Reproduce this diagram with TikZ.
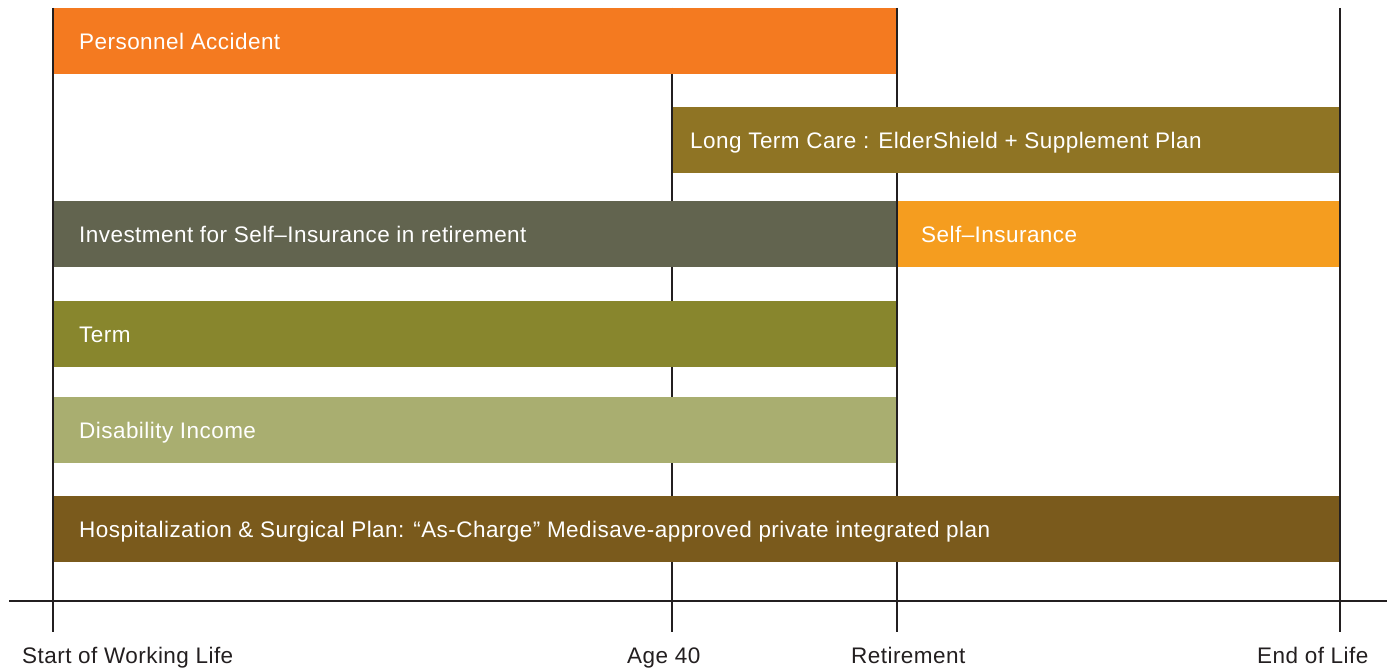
\documentclass[tikz,border=0pt]{standalone}
\usepackage{fontspec}
\setmainfont{Liberation Sans}[LetterSpace=2]
\definecolor{cAccident}{HTML}{F47A20}
\definecolor{cLTC}{HTML}{8F7424}
\definecolor{cInvest}{HTML}{62644F}
\definecolor{cSelf}{HTML}{F59D1F}
\definecolor{cTerm}{HTML}{88862D}
\definecolor{cDisab}{HTML}{A9AE70}
\definecolor{cHosp}{HTML}{7A5A1C}
\definecolor{cLine}{HTML}{231F20}
\definecolor{cText}{HTML}{231F20}
\begin{document}
\begin{tikzpicture}[x=1pt,y=-1pt,
  bar/.style={fill=#1,draw=none},
  barlabel/.style={anchor=base west,text=white,font=\fontsize{22.5}{26}\selectfont,inner sep=0pt},
  axislabel/.style={anchor=base west,text=cText,font=\fontsize{22.5}{26}\selectfont,inner sep=0pt},
  gridline/.style={draw=cLine,line width=2.2pt}]
\useasboundingbox (0,0) rectangle (1394,669);
% tick positions
\coordinate (s0) at (53,8);   \coordinate (s1) at (53,632);
\coordinate (a0) at (672,8);  \coordinate (a1) at (672,632);
\coordinate (r0) at (897,8);  \coordinate (r1) at (897,632);
\coordinate (e0) at (1340,8); \coordinate (e1) at (1340,632);
\coordinate (xl) at (9,601);  \coordinate (xr) at (1387,601);
% vertical timeline markers and axis
\draw[gridline] (s0) -- (s1);
\draw[gridline] (a0) -- (a1);
\draw[gridline] (r0) -- (r1);
\draw[gridline] (e0) -- (e1);
\draw[gridline] (xl) -- (xr);
% coverage bars (label baseline sits 41 units below each bar top)
\path[bar=cAccident] (54,8) rectangle (896,74);
\node[barlabel] (pa) at (79,49) {Personnel Accident};
\path[bar=cLTC] (673,107) rectangle (1339,173);
\node[barlabel] (ltc) at (690,148) {Long Term Care : ElderShield + Supplement Plan};
\path[bar=cInvest] (54,201) rectangle (896,267);
\node[barlabel] (inv) at (79,242) {Investment for Self–Insurance in retirement};
\path[bar=cSelf] (898,201) rectangle (1339,267);
\node[barlabel] (self) at (921,242) {Self–Insurance};
\path[bar=cTerm] (54,301) rectangle (896,367);
\node[barlabel] (term) at (79,342) {Term};
\path[bar=cDisab] (54,397) rectangle (896,463);
\node[barlabel] (dis) at (79,438) {Disability Income};
\path[bar=cHosp] (54,496) rectangle (1339,562);
\node[barlabel] (hosp) at (79,537) {Hospitalization \& Surgical Plan: “As-Charge” Medisave-approved private integrated plan};
% axis labels
\node[axislabel] (lstart) at (22,663) {Start of Working Life};
\node[axislabel] (l40) at (627,663) {Age 40};
\node[axislabel] (lret) at (851,663) {Retirement};
\node[axislabel] (lend) at (1257,663) {End of Life};
\end{tikzpicture}
\end{document}
